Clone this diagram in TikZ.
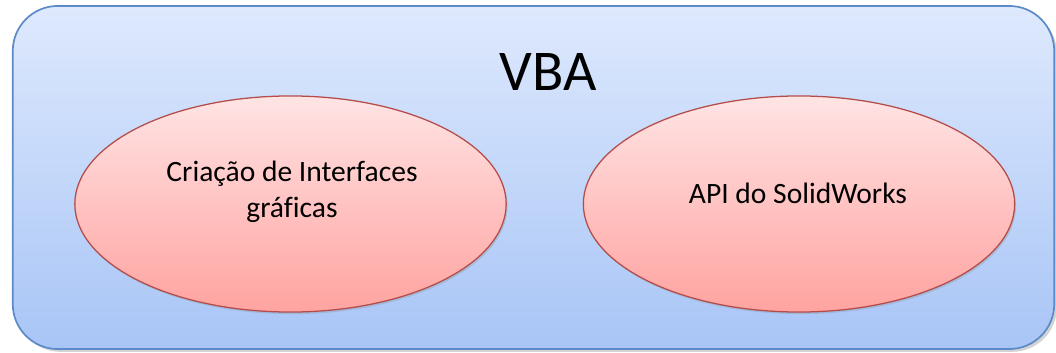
\documentclass[tikz,border=0pt]{standalone}
\usepackage{fontspec}
\setmainfont[Ligatures=CommonOff]{Carlito}
\usepackage{tikz}
\usetikzlibrary{shapes.geometric,shadows}
\definecolor{vbatop}{RGB}{222,233,253}
\definecolor{vbabottom}{RGB}{168,197,246}
\definecolor{vbaborder}{RGB}{92,138,200}
\definecolor{elltop}{RGB}{255,228,228}
\definecolor{ellbottom}{RGB}{255,163,160}
\definecolor{ellborder}{RGB}{180,76,74}

\begin{document}
\begin{tikzpicture}[x=0.025cm,y=-0.025cm,
    vbabox/.style={rectangle,draw=vbaborder,line width=1.2pt,rounded corners=1.125cm,
      top color=vbatop,bottom color=vbabottom,minimum width=26.03cm,minimum height=8.575cm,
      drop shadow={shadow xshift=2pt,shadow yshift=-2pt,opacity=0.35}},
    ellbox/.style={ellipse,draw=ellborder,line width=0.9pt,top color=elltop,bottom color=ellbottom,
      minimum width=10.78cm,minimum height=5.4cm,inner sep=0pt,
      drop shadow={shadow xshift=1pt,shadow yshift=-1.5pt,opacity=0.25}},
    elltext/.style={align=center,font=\fontsize{21}{25.6}\selectfont}]
      \useasboundingbox (0,0) rectangle (1056,353);
      \node[vbabox] (vba) at (533.5,177.5) {};
      \node[font=\fontsize{41}{48}\selectfont] (title) at (548,72) {VBA};
      \node[ellbox] (gui) at (290.5,204) {};
      \node[ellbox] (api) at (799,204) {};
      \node[elltext] (guitext) at (292,192) {Criação de Interfaces\\gráficas};
      \node[elltext] (apitext) at (798,193) {API do SolidWorks};
\end{tikzpicture}
\end{document}
